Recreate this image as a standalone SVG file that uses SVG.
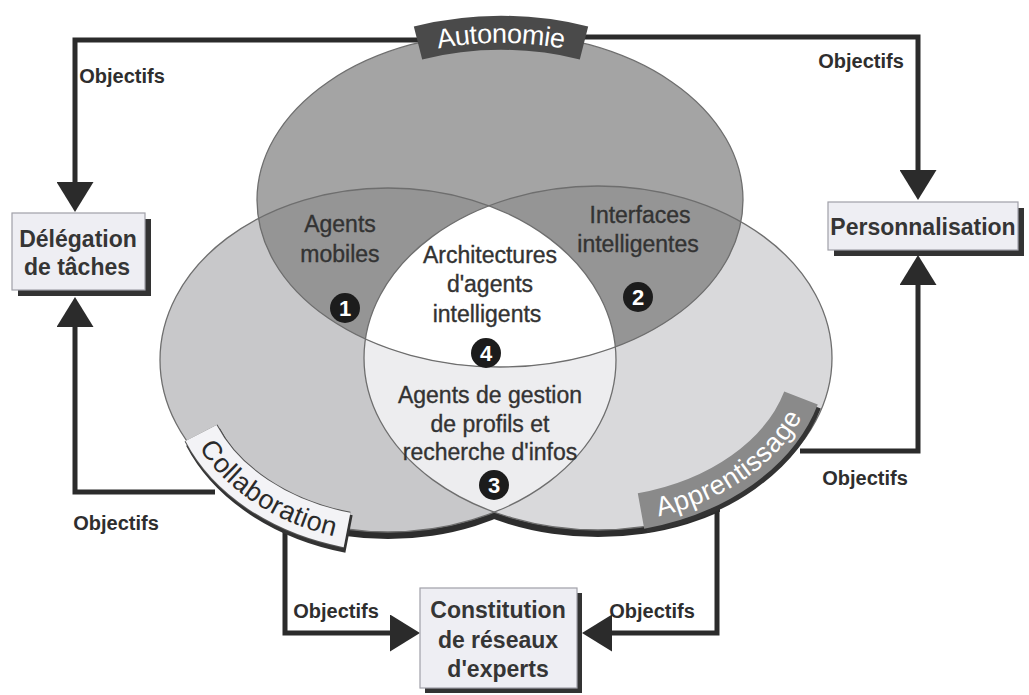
<svg xmlns="http://www.w3.org/2000/svg" width="1029" height="695" viewBox="0 0 1029 695">
<style>
.ln{fill:none;stroke:#2b2b2b;stroke-width:5}
.obj{font-family:"Liberation Sans",Arial,sans-serif;font-weight:bold;font-size:20px;fill:#2e2e2e;text-anchor:middle}
.lbl{font-family:"Liberation Sans",Arial,sans-serif;font-size:23px;fill:#333;stroke:#333;stroke-width:0.35;text-anchor:middle}
.box{fill:#eeeef3;stroke:#a0a0a8;stroke-width:1.2}
.shd{fill:#333}
.bt{font-family:"Liberation Sans",Arial,sans-serif;font-weight:bold;font-size:23px;fill:#353535;text-anchor:middle}
.num{fill:#1c1c1c}
.nt{font-family:"Liberation Sans",Arial,sans-serif;font-weight:bold;font-size:22px;fill:#fff;text-anchor:middle}
.ol{fill:none;stroke:#6e6e6e;stroke-width:1.3}
.arc{font-family:"Liberation Sans",Arial,sans-serif;font-size:27px}
</style>
<defs>
<marker id="ah" viewBox="0 0 30 37" markerUnits="userSpaceOnUse" markerWidth="30" markerHeight="37" refX="0" refY="18.5" orient="auto">
<path d="M0,0 L30,18.5 L0,37 z" fill="#2b2b2b"/>
</marker>
<clipPath id="cT"><ellipse cx="500" cy="200" rx="243" ry="167"/></clipPath>
<clipPath id="cL"><ellipse cx="388" cy="360" rx="228" ry="172"/></clipPath>
<clipPath id="cR"><ellipse cx="598" cy="358" rx="234" ry="172"/></clipPath>
<clipPath id="cBot"><rect x="300" y="440" width="420" height="130"/></clipPath>
<path id="pT" d="M418,43 A243,170 0 0,1 584,43"/>
<path id="pC" d="M201,433 A215,160 0 0,0 347,530"/>
<path id="pA" d="M641,511 A222,162 0 0,0 801,398"/>
</defs>
<rect width="1029" height="695" fill="#fff"/>

<g id="connectors">
<path class="ln" d="M430,40 H75 V182" marker-end="url(#ah)"/>
<path class="ln" d="M570,37 H918 V170" marker-end="url(#ah)"/>
<path class="ln" d="M215,492 H75 V327" marker-end="url(#ah)"/>
<path class="ln" d="M800,451 H918 V285" marker-end="url(#ah)"/>
<path class="ln" d="M285,520 V633 H390" marker-end="url(#ah)"/>
<path class="ln" d="M717,490 V633 H612" marker-end="url(#ah)"/>
<text class="obj" x="122" y="83">Objectifs</text>
<text class="obj" x="861" y="68">Objectifs</text>
<text class="obj" x="116" y="530">Objectifs</text>
<text class="obj" x="865" y="485">Objectifs</text>
<text class="obj" x="336" y="618">Objectifs</text>
<text class="obj" x="652" y="618">Objectifs</text>
</g>

<g id="venn">
<g clip-path="url(#cBot)">
<ellipse cx="388" cy="367" rx="228" ry="172" fill="#2d2d2d"/>
<ellipse cx="598" cy="365" rx="234" ry="172" fill="#2d2d2d"/>
</g>
<ellipse cx="388" cy="360" rx="228" ry="172" fill="#c8c8ca"/>
<ellipse cx="598" cy="358" rx="234" ry="172" fill="#d9d9db"/>
<ellipse cx="388" cy="360" rx="228" ry="172" fill="#ededef" clip-path="url(#cR)"/>
<ellipse cx="500" cy="200" rx="243" ry="167" fill="#a4a4a4"/>
<ellipse cx="500" cy="200" rx="243" ry="167" fill="#959595" clip-path="url(#cL)"/>
<ellipse cx="500" cy="200" rx="243" ry="167" fill="#959595" clip-path="url(#cR)"/>
<g clip-path="url(#cL)"><ellipse cx="500" cy="200" rx="243" ry="167" fill="#fff" clip-path="url(#cR)"/></g>
<ellipse class="ol" cx="388" cy="360" rx="228" ry="172"/>
<ellipse class="ol" cx="598" cy="358" rx="234" ry="172"/>
<ellipse class="ol" cx="500" cy="200" rx="243" ry="167"/>
</g>

<g id="autonomie">
<use href="#pT" fill="none" stroke="#4a4a4a" stroke-width="34"/>
<text class="arc" fill="#fff"><textPath href="#pT" startOffset="50%" text-anchor="middle"><tspan dy="10">Autonomie</tspan></textPath></text>
</g>
<g id="collaboration">
<use href="#pC" fill="none" stroke="#333" stroke-width="38" transform="translate(2,4)"/>
<use href="#pC" fill="none" stroke="#555" stroke-width="37"/>
<use href="#pC" fill="none" stroke="#f3f3f6" stroke-width="35"/>
<text class="arc" fill="#2a2a2a"><textPath href="#pC" startOffset="50%" text-anchor="middle"><tspan dy="9">Collaboration</tspan></textPath></text>
</g>
<g id="apprentissage">
<use href="#pA" fill="none" stroke="#333" stroke-width="36" transform="translate(3,4)"/>
<use href="#pA" fill="none" stroke="#8a8a8a" stroke-width="36"/>
<text class="arc" fill="#fff"><textPath href="#pA" startOffset="50%" text-anchor="middle"><tspan dy="9">Apprentissage</tspan></textPath></text>
</g>

<g id="region1">
<text class="lbl" x="340" y="232">Agents</text>
<text class="lbl" x="340" y="262">mobiles</text>
<circle class="num" cx="345" cy="308" r="15"/>
<text class="nt" x="345" y="316">1</text>
</g>
<g id="region2">
<text class="lbl" x="640" y="223">Interfaces</text>
<text class="lbl" x="638" y="252">intelligentes</text>
<circle class="num" cx="638" cy="297" r="15"/>
<text class="nt" x="638" y="305">2</text>
</g>
<g id="region4">
<text class="lbl" x="490" y="263">Architectures</text>
<text class="lbl" x="490" y="292">d'agents</text>
<text class="lbl" x="487" y="322">intelligents</text>
<circle class="num" cx="486" cy="353" r="15"/>
<text class="nt" x="486" y="361">4</text>
</g>
<g id="region3">
<text class="lbl" x="490" y="403">Agents de gestion</text>
<text class="lbl" x="490" y="432">de profils et</text>
<text class="lbl" x="490" y="460">recherche d'infos</text>
<circle class="num" cx="494" cy="485" r="15"/>
<text class="nt" x="494" y="493">3</text>
</g>

<g id="delegation">
<rect class="shd" x="18" y="219" width="133" height="77"/>
<rect class="box" x="12" y="213" width="133" height="77"/>
<text class="bt" x="78" y="247">Délégation</text>
<text class="bt" x="77" y="275">de tâches</text>
</g>
<g id="personnalisation">
<rect class="shd" x="834" y="208" width="190" height="48"/>
<rect class="box" x="828" y="202" width="190" height="48"/>
<text class="bt" x="923" y="235">Personnalisation</text>
</g>
<g id="constitution">
<rect class="shd" x="425" y="593" width="157" height="100"/>
<rect class="box" x="420" y="588" width="157" height="100"/>
<text class="bt" x="498" y="618">Constitution</text>
<text class="bt" x="498" y="648">de réseaux</text>
<text class="bt" x="498" y="677">d'experts</text>
</g>
</svg>
